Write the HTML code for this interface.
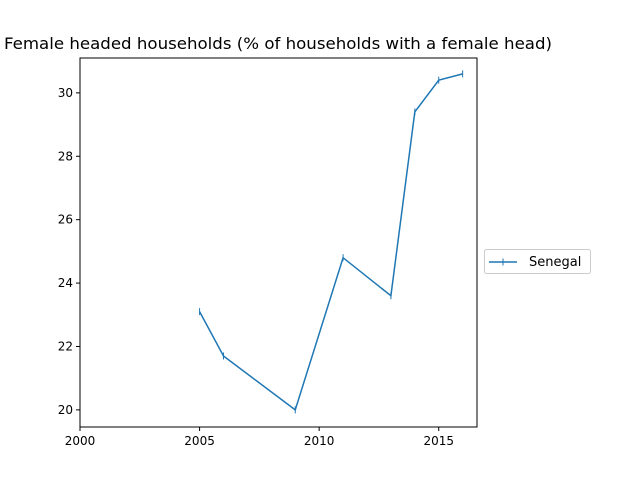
<!DOCTYPE html>
<html><head><meta charset="utf-8"><style>body{margin:0;background:#fff}svg{display:block;font-family:"DejaVu Sans","Liberation Sans",sans-serif}</style></head>
<body>
<svg id="chart" width="640" height="480">
<rect width="640" height="480" fill="#fff"/>
<text x="4" y="49" font-size="16" textLength="548" lengthAdjust="spacingAndGlyphs">Female headed households (% of households with a female head)</text>
<g id="plot"></g>
</svg>
<script>
const years=[2005,2006,2009,2011,2013,2014,2015,2016];
const values=[23.1,21.7,20.0,24.8,23.6,29.4,30.4,30.6];
const xTicks=[2000,2005,2010,2015];
const yTicks=[20,22,24,26,28,30];
const seriesName="Senegal";
const L=80,R=477,T=58,B=427;
const xMin=2000,xMax=2016.6,yMin=19.46,yMax=31.1;
const xs=v=>L+(v-xMin)/(xMax-xMin)*(R-L);
const ys=v=>B-(v-yMin)/(yMax-yMin)*(B-T);
const NS="http://www.w3.org/2000/svg";
const g=document.getElementById('plot');
function mk(t,a,p){const e=document.createElementNS(NS,t);for(const k in a)e.setAttribute(k,a[k]);(p||g).appendChild(e);return e;}
xTicks.forEach(t=>{
const l=mk('line',{x1:xs(t),x2:xs(t),y1:B,y2:B+4,stroke:'#000'});


const tx=mk('text',{x:xs(t),y:B+18,'font-size':12,'text-anchor':'middle'});tx.textContent=t;


});
yTicks.forEach(t=>{
const l=mk('line',{x1:L-4,x2:L,y1:ys(t),y2:ys(t),stroke:'#000'});


const tx=mk('text',{x:L-7,y:ys(t)+4,'font-size':12,'text-anchor':'end'});tx.textContent=t;


});
const pl=mk('polyline',{points:years.map((y,i)=>xs(y)+','+ys(values[i])).join(' '),fill:'none',stroke:'#1f77b4','stroke-width':1.5});


years.forEach((y,i)=>{
const m=mk('line',{x1:xs(y),x2:xs(y),y1:ys(values[i])-3.5,y2:ys(values[i])+3.5,stroke:'#1f77b4','stroke-width':1});


});
const fr=mk('rect',{x:L,y:T,width:R-L,height:B-T,fill:'none',stroke:'#000','stroke-width':1});


const lg=mk('g',{});


mk('rect',{x:484.5,y:249.5,width:106,height:24,rx:2,fill:'#fff',stroke:'#ccc'},lg);
mk('line',{x1:489,x2:517,y1:262,y2:262,stroke:'#1f77b4','stroke-width':1.5},lg);
mk('line',{x1:503,x2:503,y1:258.5,y2:265.5,stroke:'#1f77b4','stroke-width':1},lg);
const lt=mk('text',{x:529,y:266,'font-size':13},lg);lt.textContent=seriesName;


</script>
</body></html>
